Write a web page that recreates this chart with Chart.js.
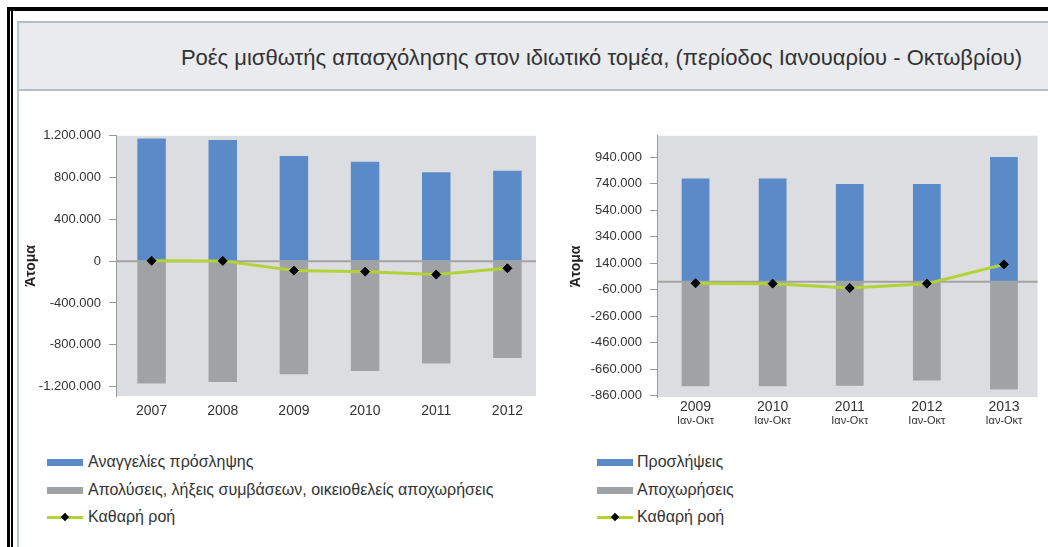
<!DOCTYPE html>
<html lang="el">
<head>
<meta charset="utf-8">
<script src="https://cdn.jsdelivr.net/npm/chart.js@4"></script>
<style>
  body { margin: 0; width: 1048px; height: 547px; background: #fff; position: relative; overflow: hidden; font-family: "Liberation Sans", Arial, sans-serif; color: #333; }
  .abs { position: absolute; }
  #topBar { left: 7px; top: 7px; right: 0; height: 4px; background: #000; }
  #leftBar1 { left: 7px; top: 7px; bottom: 0; width: 3px; background: #000; }
  #leftBar2 { left: 11px; top: 11px; bottom: 0; width: 1.5px; background: #000; }
  #leftBar3 { left: 17px; top: 22px; bottom: 0; width: 2px; background: #b9c3d3; }
  #header { left: 17px; top: 21px; right: 0; height: 66px; background: #e9ebef; border-top: 2px solid #b4bccb; border-bottom: 2px solid #b4bccb; }
  #title { right: 26px; top: 45px; font-size: 22px; color: #333; white-space: nowrap; }
  .legend { font-size: 16px; color: #333; }
  .row { position: absolute; height: 20px; line-height: 20px; white-space: nowrap; }
  .sw { position: absolute; left: 0; top: 7px; width: 36px; height: 7px; }
  .ln { position: absolute; left: 0; top: 9px; width: 36px; height: 3px; background: #b2d235; }
  .dm { position: absolute; left: 15px; top: 7px; width: 6px; height: 6px; background: #000; transform: rotate(45deg); }
  .lt { position: absolute; left: 41px; top: 0; }
</style>
</head>
<body>
<div class="abs" id="header"></div>
<div class="abs" id="topBar"></div>
<div class="abs" id="leftBar1"></div>
<div class="abs" id="leftBar2"></div>
<div class="abs" id="leftBar3"></div>
<div class="abs" id="title">Ροές μισθωτής απασχόλησης στον ιδιωτικό τομέα, (περίοδος Ιανουαρίου - Οκτωβρίου)</div>

<canvas id="chartA" class="abs" width="530" height="310" style="left:20px; top:120px;"></canvas>
<canvas id="chartB" class="abs" width="488" height="320" style="left:560px; top:120px;"></canvas>

<div class="abs legend" style="left:47px; top:452px;">
  <div class="row" style="top:0"><div class="sw" style="background:#5a8bc8"></div><span class="lt">Αναγγελίες πρόσληψης</span></div>
  <div class="row" style="top:28px"><div class="sw" style="background:#9fa3a6"></div><span class="lt">Απολύσεις, λήξεις συμβάσεων, οικειοθελείς αποχωρήσεις</span></div>
  <div class="row" style="top:55px"><div class="ln"></div><div class="dm"></div><span class="lt">Καθαρή ροή</span></div>
</div>
<div class="abs legend" style="left:597px; top:452px;">
  <div class="row" style="top:0"><div class="sw" style="background:#5a8bc8"></div><span class="lt" style="left:40px">Προσλήψεις</span></div>
  <div class="row" style="top:28px"><div class="sw" style="background:#9fa3a6"></div><span class="lt" style="left:40px">Αποχωρήσεις</span></div>
  <div class="row" style="top:55px"><div class="ln"></div><div class="dm"></div><span class="lt" style="left:40px">Καθαρή ροή</span></div>
</div>

<script>
// Αριστερό γράφημα (ετήσια στοιχεία)
const yearsA = ['2007', '2008', '2009', '2010', '2011', '2012'];
const hiresA = [1175000, 1159000, 1006000, 951000, 850000, 865000];
const exitsA = [-1171000, -1156000, -1082000, -1050000, -980000, -926000];
const netA = [4000, 3000, -90000, -100000, -128000, -68000];
const ticksA = [-1200000, -800000, -400000, 0, 400000, 800000, 1200000];

// Δεξί γράφημα (Ιανουάριος - Οκτώβριος)
const yearsB = ['2009', '2010', '2011', '2012', '2013'];
const periodB = ['Ιαν-Οκτ', 'Ιαν-Οκτ', 'Ιαν-Οκτ', 'Ιαν-Οκτ', 'Ιαν-Οκτ'];
const hiresB = [778000, 778000, 736000, 736000, 941000];
const exitsB = [-788000, -788000, -786000, -745000, -813000];
const netB = [-12000, -15000, -48000, -15000, 130000];
const ticksB = [-860000, -660000, -460000, -260000, -60000, 140000, 340000, 540000, 740000, 940000];

const BLUE = '#5a8bc8';
const GREY = '#9fa3a6';
const GREEN = '#b2d235';
const FONT = '"Liberation Sans", Arial, sans-serif';

function fmt(v) {
    return (v < 0 ? '-' : '') + String(Math.abs(v)).replace(/\B(?=(\d{3})+(?!\d))/g, '.');
}

// γκρι φόντο της περιοχής σχεδίασης
const plotBg = {
    id: 'plotBg',
    beforeDraw(chart, args, opts) {
        const a = chart.chartArea, ctx = chart.ctx;
        ctx.save();
        ctx.fillStyle = '#dcdde0';
        ctx.fillRect(a.left, a.top, a.right - opts.inset - a.left, a.bottom - a.top);
        ctx.restore();
    },
    // γραμμή του μηδενός, πάνω από τις μπάρες
    beforeDatasetDraw(chart, args, opts) {
        if (args.meta.type !== 'line') return;
        const a = chart.chartArea, ctx = chart.ctx;
        const y = chart.scales.y.getPixelForValue(0);
        ctx.save();
        ctx.strokeStyle = '#a3a3a3';
        ctx.lineWidth = 2;
        ctx.beginPath();
        ctx.moveTo(a.left, y);
        ctx.lineTo(a.right - opts.inset, y);
        ctx.stroke();
        ctx.restore();
    }
};

// δεύτερη γραμμή ετικέτας (Ιαν-Οκτ) με μικρότερη γραμματοσειρά
const subLabels = {
    id: 'subLabels',
    afterDraw(chart, args, opts) {
        if (!opts.labels) return;
        const xs = chart.scales.x, ctx = chart.ctx;
        ctx.save();
        ctx.font = '11px ' + FONT;
        ctx.fillStyle = '#333';
        ctx.textAlign = 'center';
        ctx.textBaseline = 'middle';
        opts.labels.forEach((t, i) => ctx.fillText(t, xs.getPixelForTick(i), chart.chartArea.bottom + opts.offset));
        ctx.restore();
    }
};

function makeChart(id, labels, hires, exits, net, ticks, cfg) {
    return new Chart(document.getElementById(id), {
        type: 'bar',
        data: {
            labels: labels,
            datasets: [
                {
                    type: 'line',
                    label: 'Καθαρή ροή',
                    data: net,
                    order: 0,
                    borderColor: GREEN,
                    borderWidth: 3,
                    tension: 0,
                    pointStyle: 'rectRot',
                    pointRadius: 4.5,
                    pointBackgroundColor: '#000',
                    pointBorderColor: '#000',
                    pointBorderWidth: 1
                },
                {
                    label: cfg.hiresLabel,
                    data: hires,
                    order: 1,
                    backgroundColor: BLUE,
                    barPercentage: cfg.barPct,
                    categoryPercentage: 1
                },
                {
                    label: cfg.exitsLabel,
                    data: exits,
                    order: 2,
                    backgroundColor: GREY,
                    barPercentage: cfg.barPct,
                    categoryPercentage: 1
                }
            ]
        },
        options: {
            responsive: false,
            animation: false,
            devicePixelRatio: 1,
            layout: { padding: { top: 15, right: cfg.padRight, left: 0, bottom: 0 } },
            plugins: {
                legend: { display: false },
                tooltip: { enabled: false },
                plotBg: { inset: cfg.inset },
                subLabels: { labels: cfg.sub, offset: 24 }
            },
            scales: {
                x: {
                    stacked: true,
                    grid: { display: false, drawTicks: false },
                    border: { display: false },
                    ticks: { color: '#333', font: { family: FONT, size: 14 }, padding: cfg.xPad, maxRotation: 0 },
                    afterFit: s => { s.height = cfg.xHeight; }
                },
                y: {
                    stacked: true,
                    min: cfg.min,
                    max: cfg.max,
                    afterBuildTicks: s => { s.ticks = ticks.map(v => ({ value: v })); },
                    afterFit: s => { s.width = cfg.yWidth; },
                    grid: { drawOnChartArea: false, drawTicks: true, tickLength: 7, tickColor: '#9a9a9a' },
                    border: { color: '#9a9a9a', width: 1 },
                    ticks: { color: '#333', font: { family: FONT, size: 13 }, padding: 8, callback: v => fmt(v) },
                    title: { display: true, text: 'Άτομα', color: '#222', font: { family: FONT, size: 14, weight: 'bold' }, padding: { top: cfg.titlePad, bottom: 0 } }
                }
            }
        },
        plugins: [plotBg, subLabels]
    });
}

makeChart('chartA', yearsA, hiresA, exitsA, netA, ticksA, {
    hiresLabel: 'Αναγγελίες πρόσληψης',
    exitsLabel: 'Απολύσεις, λήξεις συμβάσεων, οικειοθελείς αποχωρήσεις',
    barPct: 0.4, min: -1290000, max: 1200000,
    yWidth: 96, xHeight: 34, xPad: 7, padRight: 7, inset: 7, titlePad: 3, sub: null
});

makeChart('chartB', yearsB, hiresB, exitsB, netB, ticksB, {
    hiresLabel: 'Προσλήψεις',
    exitsLabel: 'Αποχωρήσεις',
    barPct: 0.36, min: -870000, max: 1100000,
    yWidth: 97, xHeight: 43, xPad: 2, padRight: 0, inset: 5, titlePad: 8, sub: periodB
});
</script>
</body>
</html>
